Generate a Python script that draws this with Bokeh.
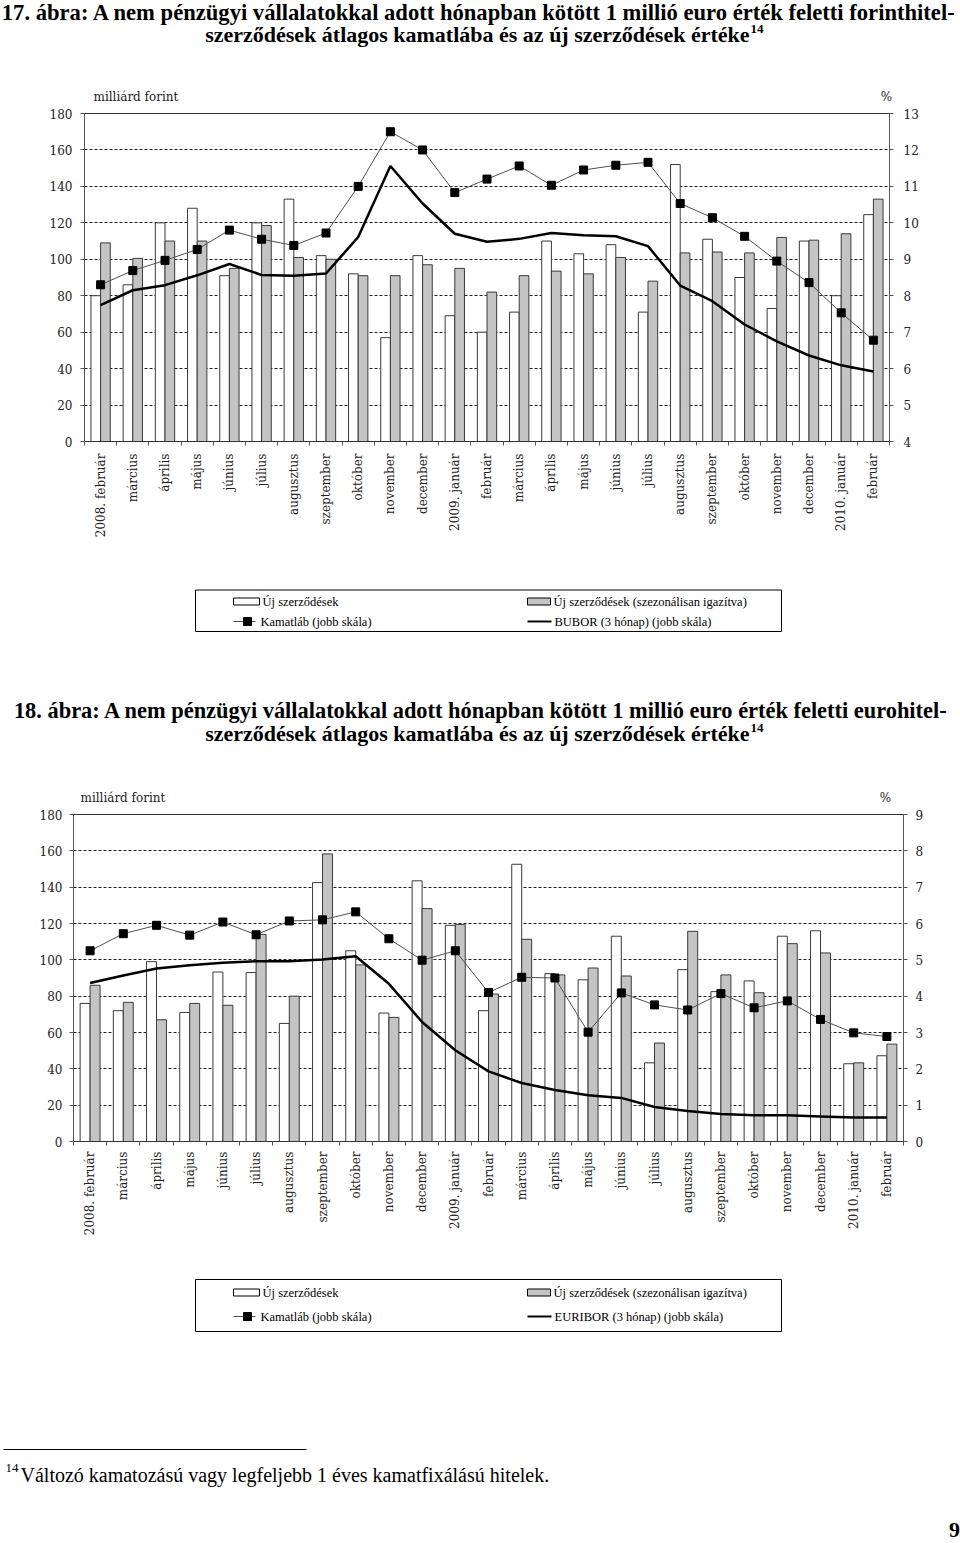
import numpy as np
from bokeh.plotting import figure
from bokeh.layouts import column, row
from bokeh.models import (Range1d, LinearAxis, FixedTicker, ColumnDataSource, Grid,
                          CustomJSTickFormatter)
from bokeh.transform import dodge
from bokeh.core.properties import value
from bokeh.embed import file_html
from bokeh.resources import INLINE

# ---------------- data ----------------
months = ["2008. február", "március", "április", "május", "június", "július",
          "augusztus", "szeptember", "október", "november", "december",
          "2009. január", "február", "március", "április", "május", "június",
          "július", "augusztus", "szeptember", "október", "november", "december",
          "2010. január", "február"]

# 17. ábra (forint)
huf_new = [80, 86, 120, 128, 91, 120, 133, 102, 92, 57, 102, 69, 60,
           71, 110, 103, 108, 71, 152, 111, 90, 73, 110, 80, 124.5]
huf_sa = [109, 100.5, 110, 110, 95, 118.5, 101, 100, 91, 91, 97, 95, 82,
          91, 93.5, 92, 101, 88, 103.5, 104, 103.5, 112, 110.5, 114, 133]
huf_rate = [8.30, 8.69, 8.97, 9.27, 9.80, 9.55, 9.38, 9.72, 11.0, 12.5, 12.0, 10.83, 11.2,
            11.56, 11.03, 11.45, 11.58, 11.66, 10.53, 10.14, 9.63, 8.95, 8.36, 7.53, 6.78]
bubor = [7.74, 8.15, 8.29, 8.56, 8.87, 8.57, 8.55, 8.61, 9.61, 11.56, 10.53, 9.70, 9.48,
         9.56, 9.72, 9.66, 9.63, 9.36, 8.28, 7.85, 7.21, 6.75, 6.36, 6.09, 5.92]

# 18. ábra (euro)
eur_new = [76, 72, 99, 71, 93.3, 93, 65, 142.5, 105, 70.7, 143.5, 119, 72,
           152.6, 92.4, 89, 113, 43.3, 94.6, 82.5, 88.4, 113, 116, 42.8, 47.2]
eur_sa = [86, 76.6, 67, 76, 75, 114, 80, 158.3, 97.2, 68.3, 128.2, 119.5, 81.2,
          111.3, 91.7, 95.5, 91.1, 54.2, 115.7, 91.7, 81.9, 108.9, 103.8, 43.3, 53.6]
eur_rate = [5.25, 5.72, 5.95, 5.68, 6.04, 5.69, 6.07, 6.10, 6.32, 5.58, 4.99, 5.25, 4.10,
            4.52, 4.50, 3.01, 4.09, 3.76, 3.62, 4.07, 3.68, 3.87, 3.36, 2.99, 2.89]
euribor = [4.36, 4.57, 4.76, 4.85, 4.92, 4.96, 4.96, 5.01, 5.10, 4.34, 3.29, 2.51, 1.93,
           1.61, 1.42, 1.27, 1.20, 0.95, 0.84, 0.76, 0.72, 0.72, 0.69, 0.66, 0.66]

left_ticks = list(range(0, 181, 20))
huf_pct_ticks = list(range(4, 14))
eur_pct_ticks = list(range(0, 10))

title1 = ["17. ábra: A nem pénzügyi vállalatokkal adott hónapban kötött 1 millió euro érték feletti forinthitel-",
          "szerződések átlagos kamatlába és az új szerződések értéke"]
title2 = ["18. ábra: A nem pénzügyi vállalatokkal adott hónapban kötött 1 millió euro érték feletti eurohitel-",
          "szerződések átlagos kamatlába és az új szerződések értéke"]
leg_new = "Új szerződések"
leg_sa = "Új szerződések (szezonálisan igazítva)"
leg_rate = "Kamatláb (jobb skála)"
leg_ref1 = "BUBOR (3 hónap) (jobb skála)"
leg_ref2 = "EURIBOR (3 hónap) (jobb skála)"
footnote = "Változó kamatozású vagy legfeljebb 1 éves kamatfixálású hitelek."

# ---------------- style ----------------
W = 960
SERIF = "Liberation Serif"
AXF = "DejaVu Serif"
GRAY = "#C4C4C4"
EDGE = "#3a3a3a"
RATE_LINE = "#505050"


def blank(h):
    p = figure(width=W, height=h, x_range=Range1d(0, W), y_range=Range1d(h, 0),
               x_axis_type=None, y_axis_type=None, min_border=0,
               min_border_left=0, min_border_right=0, min_border_top=0,
               min_border_bottom=0,
               toolbar_location=None, tools="", output_backend="svg")
    p.outline_line_color = None
    return p


def txt(p, x, y, s, size, font=SERIF, style="normal", align="left",
        color="black"):
    p.text(x=[x], y=[y], text=[s], text_font=value(font), text_font_size=size,
           text_font_style=style, text_align=align, text_baseline="middle",
           text_color=color)


def style_axis(ax, standoff):
    ax.axis_line_color = "#555555"
    ax.major_tick_line_color = "#555555"
    ax.major_tick_out = 4
    ax.major_tick_in = 0
    ax.minor_tick_line_color = None
    ax.major_label_text_font = AXF
    ax.major_label_text_font_size = "12px"
    ax.major_label_text_color = "#222222"
    ax.major_label_standoff = standoff


def chart(h, bl, br, bb, new, sa, rate, ref, pct_lo, pct_hi, pct_ticks,
          st_l, st_r, st_x):
    n = len(months)
    src = ColumnDataSource(dict(x=list(range(n)), new=new, sa=sa, rate=rate, ref=ref))
    p = figure(width=W, height=h, x_range=Range1d(-0.5, n - 0.5), y_range=Range1d(0, 180),
               x_axis_type=None, y_axis_type=None, toolbar_location=None, tools="",
               min_border_left=bl, min_border_right=br, min_border_top=8,
               min_border_bottom=bb, output_backend="svg")
    p.extra_y_ranges = {"pct": Range1d(pct_lo, pct_hi)}
    p.outline_line_color = "#333333"

    p.add_layout(Grid(dimension=1, ticker=FixedTicker(ticks=left_ticks[1:-1]),
                      grid_line_color="#222222", grid_line_dash="3 2",
                      grid_line_width=1))

    yl = LinearAxis(ticker=FixedTicker(ticks=left_ticks))
    style_axis(yl, st_l)
    p.add_layout(yl, "left")

    yr = LinearAxis(y_range_name="pct", ticker=FixedTicker(ticks=pct_ticks))
    style_axis(yr, st_r)
    p.add_layout(yr, "right")

    xt = LinearAxis(ticker=FixedTicker(ticks=[i - 0.5 for i in range(n + 1)]),
                    formatter=CustomJSTickFormatter(code="return ''"))
    style_axis(xt, 0)
    xt.axis_line_color = "#333333"
    xt.major_label_text_font_size = "1px"
    p.add_layout(xt, "below")

    xl = LinearAxis(ticker=FixedTicker(ticks=list(range(n))),
                    major_label_overrides={i: m for i, m in enumerate(months)})
    style_axis(xl, st_x)
    xl.axis_line_color = None
    xl.major_tick_out = 0
    xl.major_label_orientation = np.pi / 2
    p.add_layout(xl, "below")

    p.vbar(x=dodge("x", -0.15), top="new", width=0.3, source=src,
           fill_color="white", line_color=EDGE, line_width=1)
    p.vbar(x=dodge("x", 0.15), top="sa", width=0.3, source=src,
           fill_color=GRAY, line_color=EDGE, line_width=1)
    p.line("x", "ref", source=src, y_range_name="pct", line_color="black",
           line_width=2.5)
    p.line("x", "rate", source=src, y_range_name="pct", line_color=RATE_LINE,
           line_width=1)
    p.scatter("x", "rate", source=src, y_range_name="pct", marker="square",
              size=8, fill_color="black", line_color="black")
    return p


def titles(h, lines, c1, c2, cx, size1, unit_y, unit_x, pct_x):
    p = blank(h)
    txt(p, cx, c1, lines[0], size1, style="bold", align="center")
    txt(p, 749, c2, lines[1], "22px", style="bold", align="right")
    txt(p, 750, c2 - 6, "14", "13px", style="bold", align="left")
    txt(p, unit_x, unit_y, "milliárd forint", "12px", font=AXF, color="#222222")
    txt(p, pct_x, unit_y, "%", "12px", font=AXF, align="center", color="#222222")
    return p


def legend_fig(h, top, bottom, r1, r2, ref_label):
    p = blank(h)
    p.quad(left=[195], right=[781], top=[top], bottom=[bottom],
           fill_color=None, line_color="black", line_width=1)
    # row 1
    p.quad(left=[233], right=[259], top=[r1 - 3.5], bottom=[r1 + 3.5],
           fill_color="white", line_color="black", line_width=1)
    txt(p, 262, r1, leg_new, "12.5px")
    p.quad(left=[527], right=[550], top=[r1 - 3.5], bottom=[r1 + 3.5],
           fill_color=GRAY, line_color="black", line_width=1)
    txt(p, 553, r1, leg_sa, "12.5px")
    # row 2
    p.line(x=[233, 255], y=[r2, r2], line_color=RATE_LINE, line_width=1)
    p.scatter(x=[247], y=[r2], marker="square", size=8, fill_color="black",
              line_color="black")
    txt(p, 260, r2, leg_rate, "12.5px")
    p.line(x=[527, 551], y=[r2, r2], line_color="black", line_width=2)
    txt(p, 554, r2, ref_label, "12.5px")
    return p


# ---------------- page (margin-free, page pixels) ----------------
T1 = titles(105, title1, 11.5, 34, 479, "22.6px", 96, 93, 886)
C1 = chart(475, 84, 71, 139, huf_new, huf_sa, huf_rate, bubor, 4, 13, huf_pct_ticks,
           8, 10, 8)
L1 = legend_fig(110, 9.5, 51, 21, 41, leg_ref1)
T2 = titles(116, title2, 20, 43, 481, "22.4px", 107.5, 80, 885)
C2 = chart(462, 73, 57, 127, eur_new, eur_sa, eur_rate, euribor, 0, 9, eur_pct_ticks,
           7, 8, 6)
L2 = legend_fig(152, 11, 63, 24, 48, leg_ref2)

F = blank(121)
F.line(x=[3, 306], y=[29, 29], line_color="black", line_width=1)
txt(F, 5, 47, "14", "13px")
txt(F, 20, 54, footnote, "20px")
txt(F, 954, 109, "9", "22px", style="bold", align="center")

page = column(T1, row(C1), L1, T2, row(C2), L2, F, spacing=0)

with open("out.html", "w") as f:
    f.write(file_html(page, INLINE))
